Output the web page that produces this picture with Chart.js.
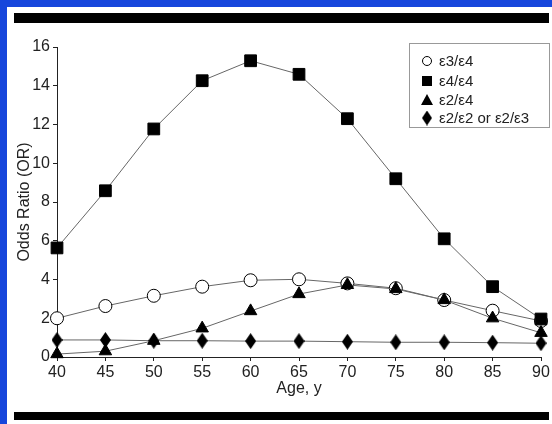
<!DOCTYPE html>
<html>
<head>
<meta charset="utf-8">
<script src="https://cdn.jsdelivr.net/npm/chart.js@4.4.0/dist/chart.umd.min.js"></script>
<style>
    body { margin: 0; }
    #marco { position: relative; width: 552px; height: 424px; background: #1646dc; overflow: hidden; }
    #panel { position: absolute; left: 7px; top: 7px; right: 0; bottom: 0; background: #fff; }
    .barra { position: absolute; left: 14px; width: 535px; background: #000; }
    canvas { position: absolute; left: 0; top: 0; }
</style>
</head>
<body>
<div id="marco">
    <div id="panel"></div>
    <div class="barra" style="top:13px;height:10px"></div>
    <div class="barra" style="top:412px;height:8px"></div>
    <canvas id="orChart" width="552" height="424"></canvas>
</div>
<script>
// Datos
const edades = [40, 45, 50, 55, 60, 65, 70, 75, 80, 85, 90];
const e3e4 = [2.0, 2.63, 3.16, 3.63, 3.96, 4.01, 3.80, 3.55, 2.94, 2.39, 1.86];
const e4e4 = [5.63, 8.58, 11.77, 14.26, 15.29, 14.59, 12.3, 9.2, 6.1, 3.63, 1.96];
const e2e4 = [0.15, 0.3, 0.84, 1.48, 2.37, 3.25, 3.72, 3.51, 2.94, 2.0, 1.25];
const e2e2 = [0.88, 0.88, 0.84, 0.84, 0.82, 0.82, 0.79, 0.76, 0.76, 0.74, 0.71];
const etiquetas = ["ε3/ε4", "ε4/ε4", "ε2/ε4", "ε2/ε2 or ε2/ε3"];

const FUENTE = "'Liberation Sans', Arial, sans-serif";
const TEXTO = "#222";

// rombo alto para la serie e2/e2
function crearRombo(w, h) {
    const c = document.createElement("canvas");
    c.width = w; c.height = h;
    const g = c.getContext("2d");
    g.fillStyle = "#000";
    g.beginPath();
    g.moveTo(w / 2, 0);
    g.lineTo(w, h / 2);
    g.lineTo(w / 2, h);
    g.lineTo(0, h / 2);
    g.closePath();
    g.fill();
    return c;
}
const rombo = crearRombo(11, 16);
const romboChico = crearRombo(10, 15);

function puntos(valores) {
    return valores.map((v, i) => ({ x: edades[i], y: v }));
}

function serie(label, valores, estilo, extra) {
    return Object.assign({
        label: label,
        data: puntos(valores),
        borderColor: "#666",
        borderWidth: 1,
        pointStyle: estilo,
        pointBackgroundColor: "#000",
        pointBorderColor: "#000",
        pointBorderWidth: 1,
        clip: false,
        tension: 0
    }, extra);
}

// leyenda dibujada dentro del area
const leyendaPlugin = {
    id: "leyenda",
    afterDatasetsDraw(chart) {
        const ctx = chart.ctx;
        const x0 = 409, y0 = 43, w = 140, h = 84;
        ctx.save();
        ctx.fillStyle = "#fff";
        ctx.fillRect(x0, y0, w, h);
        ctx.strokeStyle = "#999";
        ctx.lineWidth = 1;
        ctx.strokeRect(x0 + 0.5, y0 + 0.5, w, h);

        const filas = [61, 81, 100, 118];
        const mx = 427;
        ctx.fillStyle = "#000";
        ctx.strokeStyle = "#000";
        // circulo
        ctx.beginPath();
        ctx.arc(mx, filas[0], 4.5, 0, Math.PI * 2);
        ctx.fillStyle = "#fff";
        ctx.fill();
        ctx.stroke();
        // cuadrado
        ctx.fillStyle = "#000";
        ctx.fillRect(mx - 5, filas[1] - 5, 10, 10);
        // triangulo
        ctx.beginPath();
        ctx.moveTo(mx, filas[2] - 6);
        ctx.lineTo(mx + 6, filas[2] + 5);
        ctx.lineTo(mx - 6, filas[2] + 5);
        ctx.closePath();
        ctx.fill();
        // rombo
        ctx.drawImage(romboChico, mx - 5, filas[3] - 7.5);

        ctx.fillStyle = TEXTO;
        ctx.font = "15px " + FUENTE;
        ctx.textBaseline = "middle";
        etiquetas.forEach((t, i) => ctx.fillText(t, 439, filas[i] + 1));
        ctx.restore();
    }
};

const ctx = document.getElementById("orChart").getContext("2d");
new Chart(ctx, {
    type: "line",
    data: {
        datasets: [
            serie(etiquetas[0], e3e4, "circle", { pointRadius: 6.5, pointBackgroundColor: "#fff", order: 2 }),
            serie(etiquetas[1], e4e4, "rect", { pointRadius: 8.3, order: 1 }),
            serie(etiquetas[2], e2e4, "triangle", { pointRadius: 7.2, order: 0 }),
            serie(etiquetas[3], e2e2, rombo, { pointRadius: 8, order: 3 })
        ]
    },
    options: {
        responsive: false,
        animation: false,
        layout: { padding: { left: 0, right: 11, top: 47, bottom: 0 } },
        plugins: {
            legend: { display: false },
            tooltip: { enabled: false }
        },
        scales: {
            x: {
                type: "linear",
                min: 40,
                max: 90,
                ticks: { stepSize: 5, color: TEXTO, font: { size: 16, family: FUENTE }, padding: 2, maxRotation: 0 },
                grid: { drawOnChartArea: false, tickLength: 4, color: "#222" },
                border: { color: "#222", width: 1 },
                title: { display: true, text: "Age, y", color: TEXTO, font: { size: 16, family: FUENTE }, padding: { top: 0, bottom: 26 } },
                afterFit(scale) { scale.height = 67; }
            },
            y: {
                min: 0,
                max: 16,
                ticks: { stepSize: 2, color: TEXTO, font: { size: 16, family: FUENTE }, padding: 3 },
                grid: { drawOnChartArea: false, tickLength: 4, color: "#222" },
                border: { color: "#222", width: 1 },
                title: { display: true, text: "Odds Ratio (OR)", color: TEXTO, font: { size: 16, family: FUENTE }, padding: { top: 15, bottom: 0 } },
                afterFit(scale) { scale.width = 57; }
            }
        }
    },
    plugins: [leyendaPlugin]
});
</script>
</body>
</html>
